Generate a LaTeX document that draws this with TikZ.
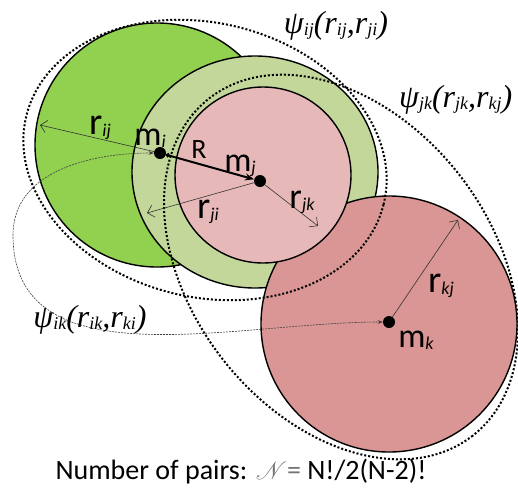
\documentclass[tikz,border=0pt]{standalone}
\usepackage{amsmath,amssymb,mathrsfs}
\usepackage{fontspec}
\setmainfont{Carlito}
\newfontfamily\psifont{Liberation Serif}
\usepackage{xcolor}
\usepackage{tikz}
\usetikzlibrary{arrows.meta,positioning,calc}
\definecolor{grn}{HTML}{92D050}
\definecolor{ringg}{HTML}{C4D79B}
\definecolor{pinkj}{HTML}{E6B9B8}
\definecolor{pinkk}{HTML}{D99694}
\newcommand\ix[1]{\raisebox{-2pt}{\fontsize{18}{18}\selectfont\itshape #1}}
\newcommand\pix[1]{\raisebox{-2pt}{\fontsize{18}{18}\selectfont\itshape #1}}
\tikzset{
  ball/.style={draw,line width=1.4pt},
  pot/.style={line width=2pt,dash pattern=on 2pt off 2pt},
  mass/.style={circle,fill=black,minimum size=12pt,inner sep=0pt},
  rad/.style={-{Straight Barb[length=2.2mm]},line width=0.6pt,draw=black!80},
  bond/.style={{Circle[length=4pt]}-{Stealth[length=9pt,width=7pt]},line width=2pt},
  ikarr/.style={{Stealth[length=5pt]}-{Stealth[length=5pt]},line width=0.6pt,draw=black!75,dash pattern=on 2pt off 1pt},
  lbl/.style={font=\fontsize{34}{34}\selectfont,inner sep=0pt},
  psi/.style={font=\psifont\itshape\fontsize{32}{32}\selectfont,inner sep=0pt},
}
\begin{document}
\begin{tikzpicture}[x=1pt,y=-1pt]
\useasboundingbox (0,0) rectangle (518,490);
% spheres
\filldraw[ball,fill=grn] (157,145) circle[radius=122];
\filldraw[ball,fill=ringg] (255,172) ellipse[x radius=123,y radius=116];
\filldraw[ball,fill=pinkk] (389,324) circle[radius=128];
\filldraw[ball,fill=pinkj] (263,175) circle[radius=88];
% pair potentials
\draw[pot] (205,160) circle[x radius=184,y radius=137,rotate=-14];
\draw[pot] (341,267) circle[x radius=214,y radius=150,rotate=-52];
% masses
\node[mass] (mi) at (160,153) {};
\node[mass] (mj) at (260,181) {};
\node[mass] (mk) at (389,322) {};
\coordinate (rij) at (40,125);
\coordinate (rji) at (147,213);
\coordinate (rjk) at (318,226);
\coordinate (rkj) at (458,220);
\coordinate (far) at (13,235);
\draw[rad] (mi) -- (rij);
\draw[rad] (mj) -- (rji);
\draw[rad] (mj) -- (rjk);
\draw[rad] (mk) -- (rkj);
\draw[bond] (mi) -- (mj);
\draw[ikarr] (mi) to[out=180,in=90] (far) to[out=-90,in=180] (mk);
% labels
\node[lbl,font=\fontsize{38}{38}\selectfont] (lrij) at (100,128) {r\ix{ij}};
\node[lbl] (lmi) at (150,138) {m\ix{i}};
\node[lbl,font=\fontsize{28}{28}\selectfont] (lR) at (199,150) {R};
\node[lbl] (lmj) at (240,166) {m\ix{j}};
\node[lbl,font=\fontsize{38}{38}\selectfont] (lrji) at (208,212) {r\ix{ji}};
\node[lbl,font=\fontsize{36}{36}\selectfont] (lrjk) at (302,202) {r\ix{jk}};
\node[lbl,font=\fontsize{38}{38}\selectfont] (lrkj) at (441,286) {r\ix{kj}};
\node[lbl] (lmk) at (416,340) {m\ix{k}};
\node[psi] (lpij) at (336,26) {ψ\pix{ij}(r\pix{ij},r\pix{ji})};
\node[psi,anchor=west] (lpjk) at (399,100) {ψ\pix{jk}(r\pix{jk},r\pix{kj})};
\node[psi] (lpik) at (90,320) {ψ\pix{ik}(r\pix{ik},r\pix{ki})};
\node[font=\fontsize{28}{28}\selectfont,inner sep=0pt] (lnum) at (241,472)
  {Number of pairs: {\color{black!55}$\mathscr{N}$=} N!/2(N-2)!};
\end{tikzpicture}
\end{document}
